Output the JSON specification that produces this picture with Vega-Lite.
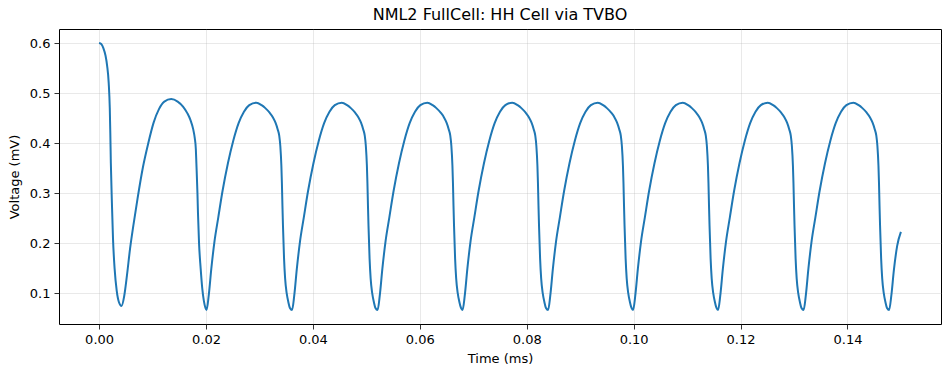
{
  "$schema": "https://vega.github.io/schema/vega-lite/v6.json",
  "width": 882,
  "height": 295,
  "autosize": {"type": "none"},
  "padding": {"left": 59, "top": 29, "right": 9, "bottom": 50},
  "background": "white",
  "config": {
    "font": "DejaVu Sans",
    "view": {"stroke": "black", "strokeWidth": 1},
    "axis": {
      "domain": false,
      "grid": true,
      "gridColor": "#b0b0b0",
      "gridOpacity": 0.35,
      "gridWidth": 0.8,
      "tickColor": "black",
      "tickSize": 5,
      "tickWidth": 0.8,
      "labelColor": "black",
      "labelFontSize": 13,
      "labelFont": "DejaVu Sans",
      "labelPadding": 4,
      "titleFont": "DejaVu Sans",
      "titleFontSize": 13,
      "titleFontWeight": "normal",
      "titleColor": "black"
    },
    "title": {"font": "DejaVu Sans", "fontSize": 16, "fontWeight": "normal", "color": "black", "offset": 6}
  },
  "title": {"text": "NML2 FullCell: HH Cell via TVBO", "anchor": "middle"},
  "data": {"values": [
    {"t": 0.0000, "v": 0.600}, {"t": 0.0004, "v": 0.598}, {"t": 0.0008, "v": 0.590}, {"t": 0.0012, "v": 0.575},
    {"t": 0.0015, "v": 0.555}, {"t": 0.0018, "v": 0.520}, {"t": 0.0020, "v": 0.470}, {"t": 0.0021, "v": 0.420},
    {"t": 0.0022, "v": 0.360}, {"t": 0.0024, "v": 0.280}, {"t": 0.0026, "v": 0.210}, {"t": 0.0029, "v": 0.150},
    {"t": 0.0033, "v": 0.105}, {"t": 0.0037, "v": 0.083}, {"t": 0.0042, "v": 0.075}, {"t": 0.0047, "v": 0.095},
    {"t": 0.0052, "v": 0.135}, {"t": 0.0058, "v": 0.190}, {"t": 0.0064, "v": 0.235}, {"t": 0.0072, "v": 0.290},
    {"t": 0.0082, "v": 0.352}, {"t": 0.0092, "v": 0.400}, {"t": 0.0102, "v": 0.441}, {"t": 0.0112, "v": 0.468},
    {"t": 0.0122, "v": 0.483}, {"t": 0.0135, "v": 0.488}, {"t": 0.0147, "v": 0.483}, {"t": 0.0157, "v": 0.473},
    {"t": 0.0165, "v": 0.460}, {"t": 0.0171, "v": 0.446}, {"t": 0.0176, "v": 0.428}, {"t": 0.0179, "v": 0.410},
    {"t": 0.0181, "v": 0.388}, {"t": 0.0182, "v": 0.360}, {"t": 0.0184, "v": 0.300}, {"t": 0.0185, "v": 0.260},
    {"t": 0.0187, "v": 0.200}, {"t": 0.0190, "v": 0.150}, {"t": 0.0193, "v": 0.110}, {"t": 0.0196, "v": 0.085},
    {"t": 0.0199, "v": 0.071},

    {"t": 0.0201, "v": 0.067}, {"t": 0.0205, "v": 0.095}, {"t": 0.0210, "v": 0.150}, {"t": 0.0216, "v": 0.205},
    {"t": 0.0223, "v": 0.252}, {"t": 0.0231, "v": 0.305}, {"t": 0.0241, "v": 0.360}, {"t": 0.0251, "v": 0.405},
    {"t": 0.0261, "v": 0.440}, {"t": 0.0271, "v": 0.463}, {"t": 0.0281, "v": 0.476}, {"t": 0.0294, "v": 0.481},
    {"t": 0.0304, "v": 0.476}, {"t": 0.0311, "v": 0.470}, {"t": 0.0319, "v": 0.461}, {"t": 0.0325, "v": 0.452},
    {"t": 0.0330, "v": 0.441}, {"t": 0.0334, "v": 0.428}, {"t": 0.0337, "v": 0.415}, {"t": 0.0339, "v": 0.395},
    {"t": 0.0341, "v": 0.355}, {"t": 0.0342, "v": 0.320}, {"t": 0.0343, "v": 0.275}, {"t": 0.0344, "v": 0.235},
    {"t": 0.0346, "v": 0.170}, {"t": 0.0348, "v": 0.130}, {"t": 0.0351, "v": 0.100}, {"t": 0.0354, "v": 0.083},
    {"t": 0.0357, "v": 0.071},

    {"t": 0.0361, "v": 0.067}, {"t": 0.0365, "v": 0.095}, {"t": 0.0370, "v": 0.150}, {"t": 0.0376, "v": 0.205},
    {"t": 0.0383, "v": 0.252}, {"t": 0.0391, "v": 0.305}, {"t": 0.0401, "v": 0.360}, {"t": 0.0411, "v": 0.405},
    {"t": 0.0421, "v": 0.440}, {"t": 0.0431, "v": 0.463}, {"t": 0.0441, "v": 0.476}, {"t": 0.0454, "v": 0.481},
    {"t": 0.0464, "v": 0.476}, {"t": 0.0471, "v": 0.470}, {"t": 0.0479, "v": 0.461}, {"t": 0.0485, "v": 0.452},
    {"t": 0.0490, "v": 0.441}, {"t": 0.0494, "v": 0.428}, {"t": 0.0497, "v": 0.415}, {"t": 0.0499, "v": 0.395},
    {"t": 0.0501, "v": 0.355}, {"t": 0.0502, "v": 0.320}, {"t": 0.0503, "v": 0.275}, {"t": 0.0504, "v": 0.235},
    {"t": 0.0506, "v": 0.170}, {"t": 0.0508, "v": 0.130}, {"t": 0.0511, "v": 0.100}, {"t": 0.0514, "v": 0.083},
    {"t": 0.0517, "v": 0.071},

    {"t": 0.0521, "v": 0.067}, {"t": 0.0525, "v": 0.095}, {"t": 0.0530, "v": 0.150}, {"t": 0.0536, "v": 0.205},
    {"t": 0.0543, "v": 0.252}, {"t": 0.0551, "v": 0.305}, {"t": 0.0561, "v": 0.360}, {"t": 0.0571, "v": 0.405},
    {"t": 0.0581, "v": 0.440}, {"t": 0.0591, "v": 0.463}, {"t": 0.0601, "v": 0.476}, {"t": 0.0614, "v": 0.481},
    {"t": 0.0624, "v": 0.476}, {"t": 0.0631, "v": 0.470}, {"t": 0.0639, "v": 0.461}, {"t": 0.0645, "v": 0.452},
    {"t": 0.0650, "v": 0.441}, {"t": 0.0654, "v": 0.428}, {"t": 0.0657, "v": 0.415}, {"t": 0.0659, "v": 0.395},
    {"t": 0.0661, "v": 0.355}, {"t": 0.0662, "v": 0.320}, {"t": 0.0663, "v": 0.275}, {"t": 0.0664, "v": 0.235},
    {"t": 0.0666, "v": 0.170}, {"t": 0.0668, "v": 0.130}, {"t": 0.0671, "v": 0.100}, {"t": 0.0674, "v": 0.083},
    {"t": 0.0677, "v": 0.071},

    {"t": 0.0680, "v": 0.067}, {"t": 0.0684, "v": 0.095}, {"t": 0.0689, "v": 0.150}, {"t": 0.0695, "v": 0.205},
    {"t": 0.0702, "v": 0.252}, {"t": 0.0710, "v": 0.305}, {"t": 0.0720, "v": 0.360}, {"t": 0.0730, "v": 0.405},
    {"t": 0.0740, "v": 0.440}, {"t": 0.0750, "v": 0.463}, {"t": 0.0760, "v": 0.476}, {"t": 0.0773, "v": 0.481},
    {"t": 0.0783, "v": 0.476}, {"t": 0.0790, "v": 0.470}, {"t": 0.0798, "v": 0.461}, {"t": 0.0804, "v": 0.452},
    {"t": 0.0809, "v": 0.441}, {"t": 0.0813, "v": 0.428}, {"t": 0.0816, "v": 0.415}, {"t": 0.0818, "v": 0.395},
    {"t": 0.0820, "v": 0.355}, {"t": 0.0821, "v": 0.320}, {"t": 0.0822, "v": 0.275}, {"t": 0.0823, "v": 0.235},
    {"t": 0.0825, "v": 0.170}, {"t": 0.0827, "v": 0.130}, {"t": 0.0830, "v": 0.100}, {"t": 0.0833, "v": 0.083},
    {"t": 0.0836, "v": 0.071},

    {"t": 0.0840, "v": 0.067}, {"t": 0.0844, "v": 0.095}, {"t": 0.0849, "v": 0.150}, {"t": 0.0855, "v": 0.205},
    {"t": 0.0862, "v": 0.252}, {"t": 0.0870, "v": 0.305}, {"t": 0.0880, "v": 0.360}, {"t": 0.0890, "v": 0.405},
    {"t": 0.0900, "v": 0.440}, {"t": 0.0910, "v": 0.463}, {"t": 0.0920, "v": 0.476}, {"t": 0.0933, "v": 0.481},
    {"t": 0.0943, "v": 0.476}, {"t": 0.0950, "v": 0.470}, {"t": 0.0958, "v": 0.461}, {"t": 0.0964, "v": 0.452},
    {"t": 0.0969, "v": 0.441}, {"t": 0.0973, "v": 0.428}, {"t": 0.0976, "v": 0.415}, {"t": 0.0978, "v": 0.395},
    {"t": 0.0980, "v": 0.355}, {"t": 0.0981, "v": 0.320}, {"t": 0.0982, "v": 0.275}, {"t": 0.0983, "v": 0.235},
    {"t": 0.0985, "v": 0.170}, {"t": 0.0987, "v": 0.130}, {"t": 0.0990, "v": 0.100}, {"t": 0.0993, "v": 0.083},
    {"t": 0.0996, "v": 0.071},

    {"t": 0.0999, "v": 0.067}, {"t": 0.1003, "v": 0.095}, {"t": 0.1008, "v": 0.150}, {"t": 0.1014, "v": 0.205},
    {"t": 0.1021, "v": 0.252}, {"t": 0.1029, "v": 0.305}, {"t": 0.1039, "v": 0.360}, {"t": 0.1049, "v": 0.405},
    {"t": 0.1059, "v": 0.440}, {"t": 0.1069, "v": 0.463}, {"t": 0.1079, "v": 0.476}, {"t": 0.1092, "v": 0.481},
    {"t": 0.1102, "v": 0.476}, {"t": 0.1109, "v": 0.470}, {"t": 0.1117, "v": 0.461}, {"t": 0.1123, "v": 0.452},
    {"t": 0.1128, "v": 0.441}, {"t": 0.1132, "v": 0.428}, {"t": 0.1135, "v": 0.415}, {"t": 0.1137, "v": 0.395},
    {"t": 0.1139, "v": 0.355}, {"t": 0.1140, "v": 0.320}, {"t": 0.1141, "v": 0.275}, {"t": 0.1142, "v": 0.235},
    {"t": 0.1144, "v": 0.170}, {"t": 0.1146, "v": 0.130}, {"t": 0.1149, "v": 0.100}, {"t": 0.1152, "v": 0.083},
    {"t": 0.1155, "v": 0.071},

    {"t": 0.1158, "v": 0.067}, {"t": 0.1162, "v": 0.095}, {"t": 0.1167, "v": 0.150}, {"t": 0.1173, "v": 0.205},
    {"t": 0.1180, "v": 0.252}, {"t": 0.1188, "v": 0.305}, {"t": 0.1198, "v": 0.360}, {"t": 0.1208, "v": 0.405},
    {"t": 0.1218, "v": 0.440}, {"t": 0.1228, "v": 0.463}, {"t": 0.1238, "v": 0.476}, {"t": 0.1251, "v": 0.481},
    {"t": 0.1261, "v": 0.476}, {"t": 0.1268, "v": 0.470}, {"t": 0.1276, "v": 0.461}, {"t": 0.1282, "v": 0.452},
    {"t": 0.1287, "v": 0.441}, {"t": 0.1291, "v": 0.428}, {"t": 0.1294, "v": 0.415}, {"t": 0.1296, "v": 0.395},
    {"t": 0.1298, "v": 0.355}, {"t": 0.1299, "v": 0.320}, {"t": 0.1300, "v": 0.275}, {"t": 0.1301, "v": 0.235},
    {"t": 0.1303, "v": 0.170}, {"t": 0.1305, "v": 0.130}, {"t": 0.1308, "v": 0.100}, {"t": 0.1311, "v": 0.083},
    {"t": 0.1314, "v": 0.071},

    {"t": 0.1318, "v": 0.067}, {"t": 0.1322, "v": 0.095}, {"t": 0.1327, "v": 0.150}, {"t": 0.1333, "v": 0.205},
    {"t": 0.1340, "v": 0.252}, {"t": 0.1348, "v": 0.305}, {"t": 0.1358, "v": 0.360}, {"t": 0.1368, "v": 0.405},
    {"t": 0.1378, "v": 0.440}, {"t": 0.1388, "v": 0.463}, {"t": 0.1398, "v": 0.476}, {"t": 0.1411, "v": 0.481},
    {"t": 0.1421, "v": 0.476}, {"t": 0.1428, "v": 0.470}, {"t": 0.1436, "v": 0.461}, {"t": 0.1442, "v": 0.452},
    {"t": 0.1447, "v": 0.441}, {"t": 0.1451, "v": 0.428}, {"t": 0.1454, "v": 0.415}, {"t": 0.1456, "v": 0.395},
    {"t": 0.1458, "v": 0.355}, {"t": 0.1459, "v": 0.320}, {"t": 0.1460, "v": 0.275}, {"t": 0.1461, "v": 0.235},
    {"t": 0.1463, "v": 0.170}, {"t": 0.1465, "v": 0.130}, {"t": 0.1468, "v": 0.100}, {"t": 0.1471, "v": 0.083},
    {"t": 0.1474, "v": 0.071},

    {"t": 0.1478, "v": 0.067}, {"t": 0.1482, "v": 0.095}, {"t": 0.1487, "v": 0.148}, {"t": 0.1493, "v": 0.195},
    {"t": 0.1500, "v": 0.223}
  ]},
  "mark": {"type": "line", "color": "#1f77b4", "strokeWidth": 2, "interpolate": "monotone", "clip": true},
  "encoding": {
    "x": {
      "field": "t", "type": "quantitative", "title": "Time (ms)",
      "scale": {"domain": [-0.0075, 0.1575], "nice": false, "zero": false},
      "axis": {"values": [0, 0.02, 0.04, 0.06, 0.08, 0.1, 0.12, 0.14], "format": ".2f", "titlePadding": 6}
    },
    "y": {
      "field": "v", "type": "quantitative", "title": "Voltage (mV)",
      "scale": {"domain": [0.039, 0.628], "nice": false, "zero": false},
      "axis": {"values": [0.1, 0.2, 0.3, 0.4, 0.5, 0.6], "format": ".1f", "titlePadding": 8}
    }
  }
}
